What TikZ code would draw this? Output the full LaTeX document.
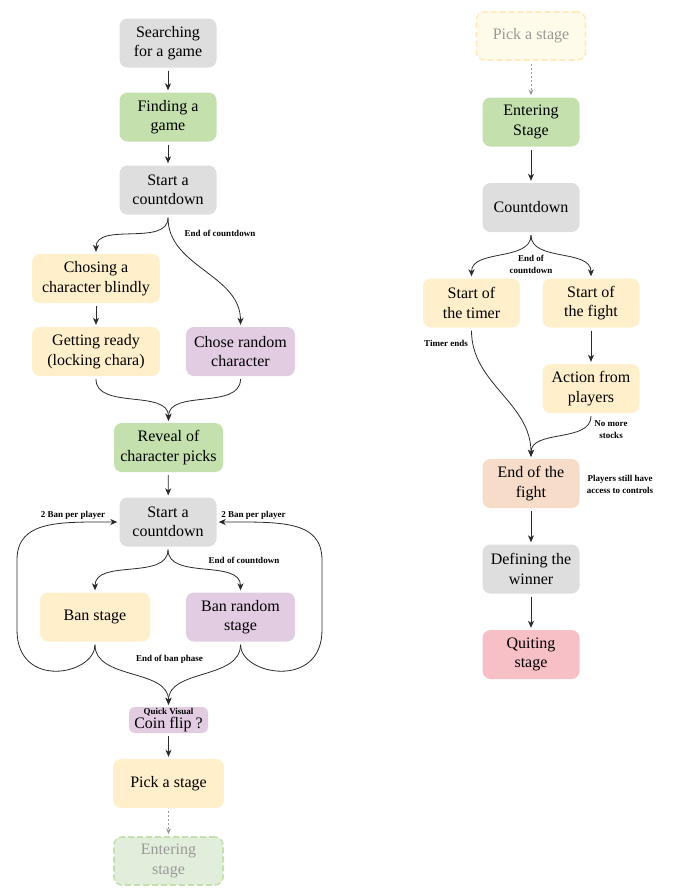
\documentclass[tikz,border=0pt]{standalone}
\usepackage{fontspec}
\setmainfont{Liberation Serif}
\usetikzlibrary{arrows.meta}

\definecolor{grigio}{HTML}{DEDEDE}
\definecolor{verde}{HTML}{C3E0AD}
\definecolor{giallo}{HTML}{FFEFCB}
\definecolor{viola}{HTML}{E2CCE2}
\definecolor{pesca}{HTML}{F7DDC9}
\definecolor{rosa}{HTML}{F7C0C6}
\definecolor{verdechiaro}{HTML}{E2EEDC}
\definecolor{giallochiaro}{HTML}{FFFBEB}
\definecolor{bordogiallo}{HTML}{FFEBBF}
\definecolor{freccia}{HTML}{2A2A2A}
\definecolor{spento}{HTML}{999999}

\newcommand{\etichfont}{\fontsize{9}{12}\selectfont\bfseries}

\tikzset{
    blocco/.style={rounded corners=8pt, minimum height=49pt, minimum width=97pt,
        inner sep=2pt, align=center, font=\fontsize{16}{19.5}\selectfont},
    fantasma/.style={blocco, dash pattern=on 6pt off 3pt, line width=1.6pt, text=spento},
    flow/.style={-{Stealth[length=7pt,width=6pt,inset=2pt]}, draw=freccia,
        line width=0.8pt, shorten <=3pt, shorten >=2pt},
    tratteggio/.style={-{Stealth[length=6pt,width=5pt,inset=2pt]}, draw=spento,
        line width=0.9pt, dash pattern=on 2pt off 2pt, shorten <=3pt, shorten >=2pt},
    etich/.style={font=\etichfont, align=center, inner sep=0pt}
}

\begin{document}
\begin{tikzpicture}[x=1pt,y=-1pt]
    \useasboundingbox (0,0) rectangle (678,895);

    %%%%%%%%% Colonna sinistra %%%%%%%%%
    \node[blocco, fill=grigio] (cerca) at (168,43) {Searching\\for a game};
    \node[blocco, fill=verde] (trova) at (168,117) {Finding a\\game};
    \node[blocco, fill=grigio] (avvio1) at (168,190) {Start a\\countdown};
    \node[blocco, fill=giallo, minimum width=128pt] (scelta) at (96,278.5) {Chosing a\\character blindly};
    \node[blocco, fill=giallo, minimum width=128pt] (pronto) at (96,351.5) {Getting ready\\(locking chara)};
    \node[blocco, fill=viola, minimum width=109pt] (casuale) at (240.5,351.5) {Chose random\\character};
    \node[blocco, fill=verde, minimum width=109pt] (rivela) at (168.5,447.5) {Reveal of\\character picks};
    \node[blocco, fill=grigio] (avvio2) at (168,522) {Start a\\countdown};
    \node[blocco, fill=giallo, minimum width=110pt] (ban) at (95,617) {Ban stage};
    \node[blocco, fill=viola, minimum width=109pt] (bancas) at (240.5,617) {Ban random\\stage};
    \node[blocco, fill=viola, minimum width=79pt, minimum height=26pt, inner ysep=1pt,
        rounded corners=6pt] (moneta) at (168.5,720) {{\etichfont Quick Visual}\\[-5.5pt]Coin flip ?};
    \node[blocco, fill=giallo, minimum width=111pt] (sceglie) at (168.5,783.5) {Pick a stage};
    \node[fantasma, fill=verdechiaro, draw=verde, minimum width=109pt, minimum height=48pt] (entra) at (168.5,861) {Entering\\stage};

    %%%%%%%%% Colonna destra %%%%%%%%%
    \node[fantasma, fill=giallochiaro, draw=bordogiallo, minimum width=109pt, minimum height=48pt] (sceltad) at (531,36) {Pick a stage};
    \node[blocco, fill=verde] (entrad) at (531,122) {Entering\\Stage};
    \node[blocco, fill=grigio] (conto) at (531,207.5) {Countdown};
    \node[blocco, fill=giallo] (timer) at (471.5,303) {Start of\\the timer};
    \node[blocco, fill=giallo] (lotta) at (591,303) {Start of\\the fight};
    \node[blocco, fill=giallo] (azione) at (591,388.5) {Action from\\players};
    \node[blocco, fill=pesca] (fine) at (531,483.5) {End of the\\fight};
    \node[blocco, fill=grigio] (vincitore) at (531,569) {Defining the\\winner};
    \node[blocco, fill=rosa] (esce) at (531,654.5) {Quiting\\stage};

    %%%%%%%%% Etichette %%%%%%%%%
    \node[etich] (fineconto1) at (220,233) {End of countdown};
    \node[etich] (fineconto2) at (244,560) {End of countdown};
    \node[etich] (bansx) at (73,515) {2 Ban per player};
    \node[etich] (bandx) at (253.5,515) {2 Ban per player};
    \node[etich] (fineban) at (169.5,659) {End of ban phase};
    \node[etich] (fineconto3) at (531,264) {End of\\countdown};
    \node[etich] (finetimer) at (446,343) {Timer ends};
    \node[etich] (stock) at (611,430) {No more\\stocks};
    \node[etich] (controlli) at (620,484) {Players still have\\access to controls};

    %%%%%%%%% Frecce sinistra %%%%%%%%%
    \draw[flow] (cerca) -- (trova);
    \draw[flow] (trova) -- (avvio1);
    \draw[flow] (avvio1.south) to[out=-90,in=90] (scelta.north);
    \draw[flow] (avvio1.south) to[out=-90,in=90] (casuale.north);
    \draw[flow] (scelta) -- (pronto);
    \draw[flow] (pronto.south) to[out=-90,in=90] (rivela.north);
    \draw[flow] (casuale.south) to[out=-90,in=90] (rivela.north);
    \draw[flow] (rivela) -- (avvio2);
    \draw[flow] (avvio2.south) to[out=-90,in=90] (ban.north);
    \draw[flow] (avvio2.south) to[out=-90,in=90] (bancas.north);
    \draw[flow] (ban.south) .. controls (95,675) and (17,690) .. (17,630)
        -- (17,560) .. controls (17,520) and (60,522) .. (avvio2.west);
    \draw[flow] (bancas.south) .. controls (240.5,675) and (322,690) .. (322,630)
        -- (322,560) .. controls (322,520) and (280,522) .. (avvio2.east);
    \draw[flow] (ban.south) to[out=-90,in=90] (moneta.north);
    \draw[flow] (bancas.south) to[out=-90,in=90] (moneta.north);
    \draw[flow] (moneta) -- (sceglie);
    \draw[tratteggio] (sceglie) -- (entra);

    %%%%%%%%% Frecce destra %%%%%%%%%
    \draw[tratteggio] (sceltad) -- (entrad);
    \draw[flow] (entrad) -- (conto);
    \draw[flow] (conto.south) to[out=-90,in=90] (timer.north);
    \draw[flow] (conto.south) to[out=-90,in=90] (lotta.north);
    \draw[flow] (lotta) -- (azione);
    \draw[flow] (timer.south) to[out=-90,in=90] (fine.north);
    \draw[flow] (azione.south) to[out=-90,in=90] (fine.north);
    \draw[flow] (fine) -- (vincitore);
    \draw[flow] (vincitore) -- (esce);
\end{tikzpicture}
\end{document}
